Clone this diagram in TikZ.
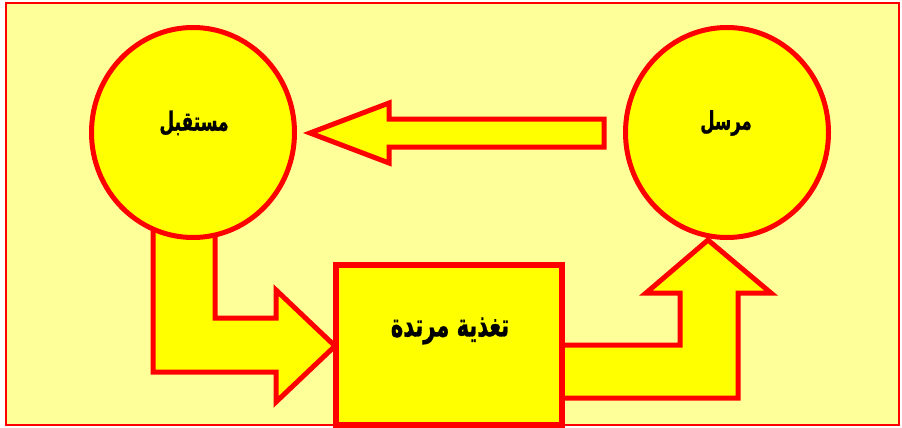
\documentclass[tikz,border=0pt]{standalone}
\usepackage{fontspec}
\usepackage{graphicx}
\usetikzlibrary{shapes.geometric}
\newfontfamily\arabicfont[Script=Arabic, FakeBold=1.2]{DejaVu Sans Bold}
\TeXXeTstate=1
\definecolor{bgyellow}{HTML}{FFFF99}
\definecolor{fillyellow}{HTML}{FFFF00}
\definecolor{redline}{HTML}{FF0000}
\newcommand{\artext}[2]{\scalebox{1}[1.55]{\arabicfont\fontsize{#1}{#1}\selectfont #2}}
\tikzset{
  blockarrow/.style={draw=redline, fill=fillyellow, line width=5pt, line join=miter},
  roundnode/.style={ellipse, draw=redline, fill=fillyellow, line width=5pt, minimum width=203pt, minimum height=210pt, inner sep=0pt},
  boxnode/.style={rectangle, draw=redline, fill=fillyellow, line width=6pt, minimum width=226pt, minimum height=160pt, inner sep=0pt},
  label/.style={text=black, inner sep=0pt}
}
\begin{document}
\begin{tikzpicture}[x=1pt,y=-1pt]
\useasboundingbox (0,0) rectangle (902,428);
\fill[white] (0,0) rectangle (902,428);
\draw[fill=bgyellow, draw=redline, line width=1.5pt] (6,3) rectangle (899,425);
% block arrows
\draw[blockarrow] (604,119) -- (389,119) -- (389,103) -- (310,133) -- (389,163) -- (389,147) -- (604,147) -- cycle;
\draw[blockarrow] (153,215) -- (153,372) -- (276,372) -- (276,402) -- (335,346) -- (276,290) -- (276,318) -- (215,318) -- (215,215) -- cycle;
\draw[blockarrow] (560,345) -- (680,345) -- (680,293) -- (646,293) -- (708,240) -- (771,293) -- (738,293) -- (738,398) -- (560,398) -- cycle;
% nodes
\node[roundnode] (receiver) at (193,132.5) {};
\node[roundnode] (sender) at (727,132.5) {};
\node[boxnode] (feedback) at (449,345) {};
\node[label] (receivertext) at (194,123) {\artext{17}{\beginR مستقبل\endR}};
\node[label] (sendertext) at (726,123) {\artext{16.5}{\beginR مرسل\endR}};
\node[label] (feedbacktext) at (450,331) {\artext{21}{\beginR تغذية مرتدة\endR}};
\end{tikzpicture}
\end{document}
